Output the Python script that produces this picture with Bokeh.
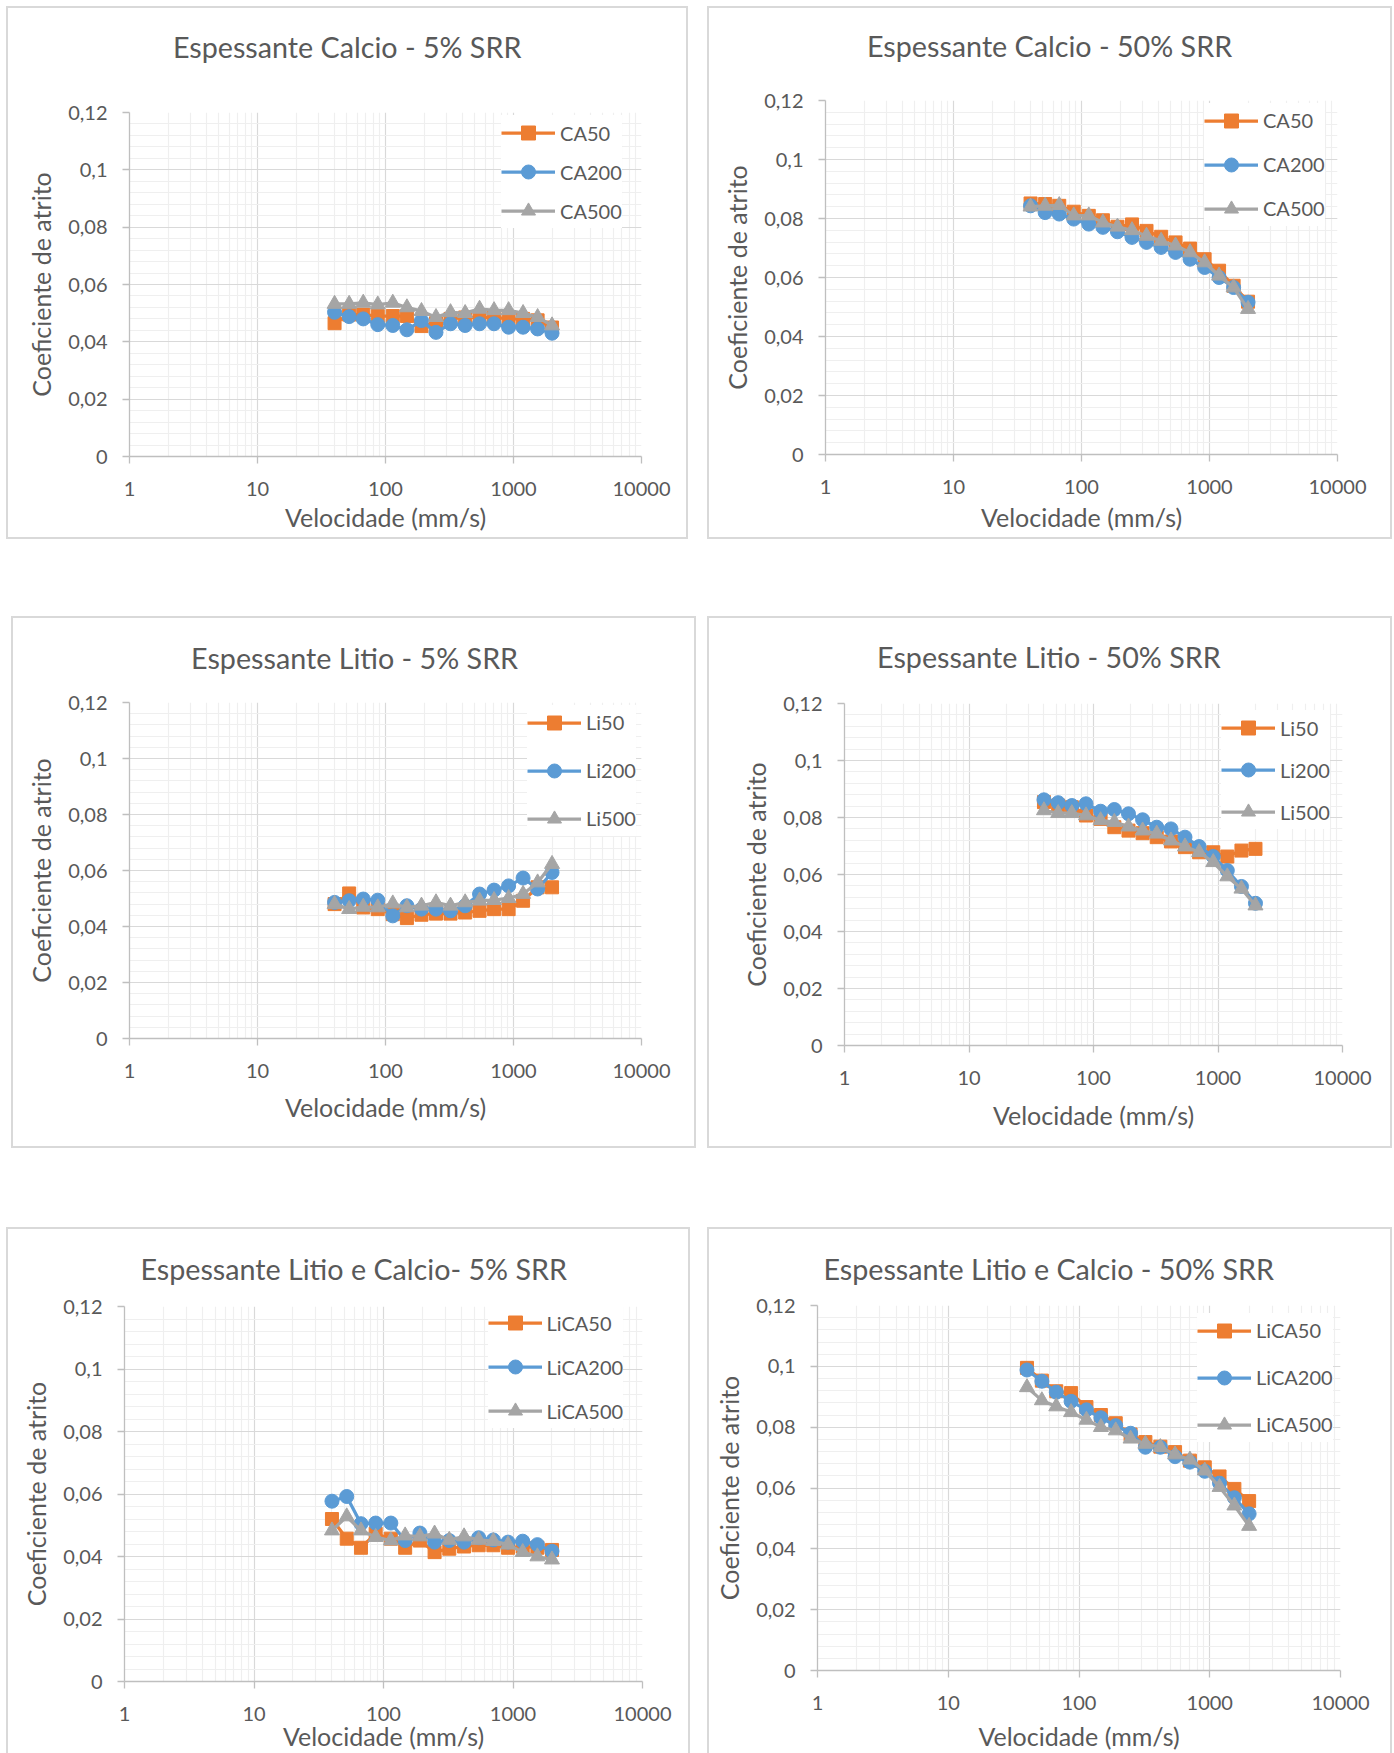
import numpy as np
from bokeh.plotting import figure
from bokeh.models import Range1d, FixedTicker, Legend, LegendItem, Spacer, Title
from bokeh.layouts import row, column
from bokeh.embed import file_html
from bokeh.resources import INLINE

# ---------------- data ----------------
VEL = [40, 52, 67, 87, 114, 147, 191, 248, 322, 419, 543, 705, 916, 1188, 1543, 2000]

X_TICKS = [1, 10, 100, 1000, 10000]
X_TICK_LABELS = ["1", "10", "100", "1000", "10000"]
Y_TICKS = [0, 0.02, 0.04, 0.06, 0.08, 0.1, 0.12]
Y_TICK_LABELS = ["0", "0,02", "0,04", "0,06", "0,08", "0,1", "0,12"]

TITLES = ["Espessante Calcio - 5% SRR", "Espessante Calcio - 50% SRR",
          "Espessante Litio - 5% SRR", "Espessante Litio - 50% SRR",
          "Espessante Litio e Calcio-  5% SRR", "Espessante Litio e Calcio - 50% SRR"]
X_LABEL = "Velocidade (mm/s)"
Y_LABEL = "Coeficiente de atrito"

NAMES_CA = ["CA50", "CA200", "CA500"]
NAMES_LI = ["Li50", "Li200", "Li500"]
NAMES_LICA = ["LiCA50", "LiCA200", "LiCA500"]

CA50_5 = [0.0465, 0.0495, 0.0495, 0.049, 0.049, 0.049, 0.0455, 0.0465, 0.048, 0.0485, 0.0485, 0.0485, 0.048, 0.048, 0.0475, 0.045]
CA200_5 = [0.0503, 0.0488, 0.048, 0.046, 0.0457, 0.0442, 0.0474, 0.0433, 0.0463, 0.0457, 0.0463, 0.0463, 0.0451, 0.0451, 0.0445, 0.043]
CA500_5 = [0.0532, 0.0532, 0.0536, 0.053, 0.0536, 0.052, 0.0507, 0.0486, 0.0503, 0.050, 0.0515, 0.051, 0.051, 0.050, 0.0486, 0.0457]

CA50_50 = [0.0851, 0.0849, 0.0843, 0.0823, 0.0809, 0.0794, 0.0772, 0.078, 0.0758, 0.0738, 0.0719, 0.0698, 0.0662, 0.0623, 0.0572, 0.0518]
CA200_50 = [0.0843, 0.082, 0.0815, 0.0798, 0.0781, 0.077, 0.0755, 0.0736, 0.0719, 0.0702, 0.0685, 0.0662, 0.0634, 0.060, 0.0566, 0.0516]
CA500_50 = [0.084, 0.0843, 0.0845, 0.081, 0.081, 0.0786, 0.0772, 0.076, 0.0741, 0.0724, 0.0708, 0.0685, 0.0651, 0.0606, 0.0566, 0.0493]

LI50_5 = [0.048, 0.0518, 0.0468, 0.0462, 0.0444, 0.043, 0.0442, 0.0446, 0.0446, 0.045, 0.0456, 0.0462, 0.0462, 0.0492, 0.054, 0.054]
LI200_5 = [0.0486, 0.0492, 0.0498, 0.0494, 0.0438, 0.0474, 0.0462, 0.0462, 0.0456, 0.0474, 0.0516, 0.053, 0.0545, 0.0573, 0.0534, 0.0593]
LI500_5 = [0.048, 0.0462, 0.047, 0.0468, 0.0482, 0.0468, 0.0474, 0.0486, 0.0474, 0.0486, 0.0492, 0.0494, 0.0501, 0.0516, 0.0557, 0.0623]

LI50_50 = [0.0854, 0.0842, 0.0836, 0.0807, 0.0795, 0.0766, 0.0754, 0.0745, 0.0731, 0.0716, 0.0696, 0.0678, 0.0678, 0.0663, 0.0684, 0.069]
LI200_50 = [0.0862, 0.0852, 0.0842, 0.0848, 0.0822, 0.0828, 0.0813, 0.0792, 0.0766, 0.076, 0.0731, 0.0698, 0.0663, 0.0614, 0.0558, 0.0499]
LI500_50 = [0.0825, 0.0815, 0.0815, 0.0807, 0.079, 0.0784, 0.0768, 0.0754, 0.0743, 0.0719, 0.0698, 0.0678, 0.0643, 0.0593, 0.055, 0.0491]

LICA50_5 = [0.052, 0.0457, 0.0428, 0.0473, 0.0457, 0.0428, 0.0451, 0.0414, 0.0425, 0.0432, 0.0436, 0.0436, 0.0428, 0.0432, 0.0428, 0.0421]
LICA200_5 = [0.0577, 0.0592, 0.0505, 0.0507, 0.0507, 0.0451, 0.0475, 0.0446, 0.0451, 0.0446, 0.046, 0.0453, 0.0446, 0.0449, 0.0438, 0.0417]
LICA500_5 = [0.0483, 0.0528, 0.0483, 0.0462, 0.0451, 0.0467, 0.0464, 0.0473, 0.0453, 0.0464, 0.0453, 0.0449, 0.0438, 0.0414, 0.040, 0.039]

LICA50_50 = [0.0995, 0.0953, 0.0918, 0.0912, 0.0866, 0.084, 0.0813, 0.0776, 0.0751, 0.0736, 0.0718, 0.069, 0.0668, 0.0638, 0.0597, 0.0557]
LICA200_50 = [0.0988, 0.0951, 0.0915, 0.0885, 0.0857, 0.0831, 0.0805, 0.078, 0.0734, 0.0734, 0.0703, 0.0685, 0.0655, 0.0616, 0.0568, 0.0515]
LICA500_50 = [0.0931, 0.0888, 0.0868, 0.0849, 0.0824, 0.08, 0.0789, 0.0762, 0.0745, 0.0734, 0.071, 0.0693, 0.0657, 0.0603, 0.0542, 0.0475]

# ---------------- style ----------------
FONT = "Lato"
TXT = "#595959"
COLORS = ["#ED7D31", "#5B9BD5", "#A5A5A5"]
MARKERS = ["square", "circle", "triangle"]
MSIZE = [13, 14, 15]
TITLE_SIZE = "28.7px"
AXLABEL_SIZE = "25px"
TICK_SIZE = "20px"
LEGEND_SIZE = "20px"

# panel geometry (page coords): origin, size, frame box, title left / centre y,
# x-label standoff, legend line start, first entry centre, entry spacing
PANELS = [
    dict(ox=8, oy=8, w=678, h=529, fx0=128.6, fx1=640.6, fy0=112, fy1=456,
         tl=172, ty=48, xls=3, lgx=501.7, lgy=131.8, lgs=39),
    dict(ox=709, oy=8, w=681, h=529, fx0=825, fx1=1337, fy0=99.5, fy1=454,
         tl=866.5, ty=47, xls=5, lgx=1205, lgy=119.3, lgs=44),
    dict(ox=13, oy=618, w=681, h=528, fx0=128.6, fx1=640.6, fy0=702, fy1=1037.5,
         tl=190.2, ty=658.5, xls=11, lgx=527.6, lgy=720.5, lgs=48),
    dict(ox=709, oy=618, w=681, h=528, fx0=844, fx1=1341.5, fy0=703, fy1=1045,
         tl=876.6, ty=658.5, xls=12, lgx=1222, lgy=726.7, lgs=42),
    dict(ox=8, oy=1229, w=680, h=524, fx0=124, fx1=642, fy0=1306, fy1=1681,
         tl=139.9, ty=1270, xls=-3, lgx=488.5, lgy=1321.5, lgs=44),
    dict(ox=709, oy=1229, w=681, h=524, fx0=817, fx1=1340, fy0=1305, fy1=1670,
         tl=822.9, ty=1270, xls=8, lgx=1198, lgy=1329, lgs=47),
]

SERIES = [
    (NAMES_CA, [CA50_5, CA200_5, CA500_5]),
    (NAMES_CA, [CA50_50, CA200_50, CA500_50]),
    (NAMES_LI, [LI50_5, LI200_5, LI500_5]),
    (NAMES_LI, [LI50_50, LI200_50, LI500_50]),
    (NAMES_LICA, [LICA50_5, LICA200_5, LICA500_5]),
    (NAMES_LICA, [LICA50_50, LICA200_50, LICA500_50]),
]

X_MINOR = [m * d for d in [1, 10, 100, 1000] for m in range(2, 10)]
Y_MINOR = [round(v, 3) for v in np.arange(0, 0.1201, 0.004)]


def make_panel(g, title, names, ys_list):
    ml = int(round(g["fx0"] - g["ox"]))
    mr = int(round(g["ox"] + g["w"] - g["fx1"]))
    mt = int(round(g["fy0"] - g["oy"]))
    mb = int(round(g["oy"] + g["h"] - g["fy1"]))
    p = figure(width=g["w"], height=g["h"], x_axis_type="log",
               x_range=Range1d(1, 10000), y_range=Range1d(0, 0.12),
               output_backend="svg", toolbar_location=None,
               min_border_left=ml, min_border_right=mr,
               min_border_top=mt, min_border_bottom=mb)
    # spacer title (closest to frame) then the visible title above it
    gap = max(g["fy0"] - g["ty"] - 14.6 - 4.4, 0)
    p.add_layout(Title(text=" ", text_font_size="2px", standoff=int(round(gap))), "above")
    p.add_layout(Title(text=title, align="left", offset=g["tl"] - g["fx0"],
                       vertical_align="bottom", standoff=0,
                       text_font=FONT, text_font_size=TITLE_SIZE,
                       text_font_style="normal", text_color=TXT), "above")
    p.outline_line_color = None
    p.background_fill_color = "white"
    p.border_fill_color = "white"
    p.styles = {"outline": "2px solid #d9d9d9"}

    xt = FixedTicker(ticks=X_TICKS, minor_ticks=X_MINOR)
    yt = FixedTicker(ticks=Y_TICKS, minor_ticks=Y_MINOR)
    p.xaxis.ticker = xt
    p.xgrid.ticker = xt
    p.yaxis.ticker = yt
    p.ygrid.ticker = yt
    p.xaxis.major_label_overrides = dict(zip(X_TICKS, X_TICK_LABELS))
    p.yaxis.major_label_overrides = dict(zip(Y_TICKS, Y_TICK_LABELS))

    for ax in (p.xaxis[0], p.yaxis[0]):
        ax.axis_line_color = "#bfbfbf"
        ax.axis_line_width = 1.3
        ax.major_tick_line_color = "#bfbfbf"
        ax.major_tick_line_width = 1.3
        ax.major_tick_out = 7
        ax.major_tick_in = 0
        ax.minor_tick_line_color = None
        ax.major_label_text_font = FONT
        ax.major_label_text_font_size = TICK_SIZE
        ax.major_label_text_color = TXT
        ax.axis_label_text_font = FONT
        ax.axis_label_text_font_size = AXLABEL_SIZE
        ax.axis_label_text_font_style = "normal"
        ax.axis_label_text_color = TXT
    p.xaxis.axis_label = X_LABEL
    p.yaxis.axis_label = Y_LABEL
    p.xaxis.major_label_standoff = 18
    p.yaxis.major_label_standoff = 15
    p.xaxis.axis_label_standoff = g["xls"]
    p.yaxis.axis_label_standoff = 9

    for gr in (p.xgrid[0], p.ygrid[0]):
        gr.grid_line_color = "#d9d9d9"
        gr.grid_line_width = 1.2
        gr.minor_grid_line_color = "#efefef"
        gr.minor_grid_line_width = 1.2

    items = []
    for name, ys, col, mk, ms in zip(names, ys_list, COLORS, MARKERS, MSIZE):
        rl = p.line(VEL, ys, line_color=col, line_width=3.25)
        rs = p.scatter(VEL, ys, marker=mk, size=ms, fill_color=col, line_color=col)
        items.append(LegendItem(label=name, renderers=[rl, rs]))

    pad, gh = 1, 35
    spacing = int(round(g["lgs"] - gh))
    top = max(g["lgy"] - gh / 2 - pad, g["fy0"] - 8)
    bottom = top + 2 * pad + 3 * gh + 2 * spacing
    vx = g["lgx"] - pad - g["fx0"]
    vy = g["fy1"] - bottom
    leg = Legend(items=items, location=(vx, vy), glyph_width=54, glyph_height=gh,
                 label_height=gh, label_standoff=5, spacing=spacing, padding=pad,
                 margin=0, border_line_color=None, background_fill_color="white",
                 background_fill_alpha=1.0, label_text_font=FONT,
                 label_text_font_size=LEGEND_SIZE, label_text_color=TXT)
    p.add_layout(leg)
    return column(p)


plots = [make_panel(g, t, s[0], s[1]) for g, t, s in zip(PANELS, TITLES, SERIES)]

row1 = row(Spacer(width=8, height=529), plots[0], Spacer(width=23, height=529), plots[1])
row2 = row(Spacer(width=13, height=528), plots[2], Spacer(width=15, height=528), plots[3])
row3 = row(Spacer(width=8, height=524), plots[4], Spacer(width=21, height=524), plots[5])
layout = column(Spacer(width=10, height=8), row1, Spacer(width=10, height=81), row2,
                Spacer(width=10, height=83), row3)

open("out.html", "w").write(file_html(layout, INLINE))
